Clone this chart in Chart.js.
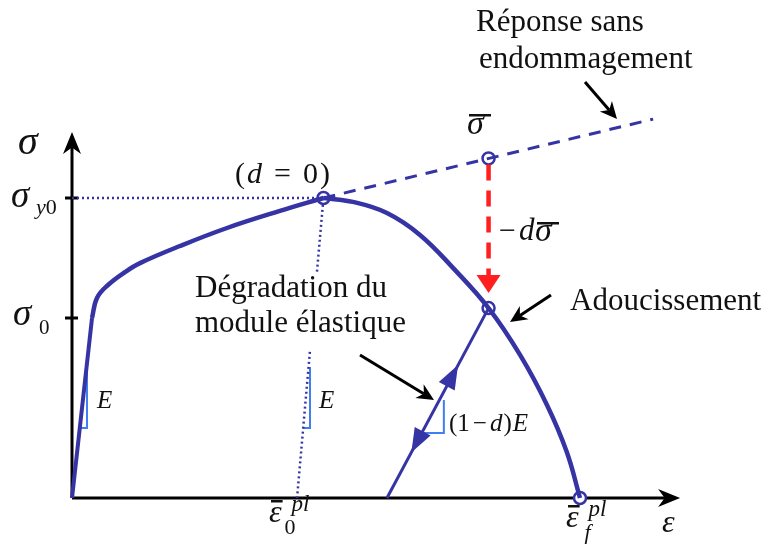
<!DOCTYPE html>
<html>
<head>
<meta charset="utf-8">
<script src="https://cdn.jsdelivr.net/npm/chart.js"></script>
<style>
    body { margin: 0; background: #fff; }
    #wrap { width: 768px; height: 545px; }
</style>
</head>
<body>
<div id="wrap"><canvas id="chart" width="768" height="545"></canvas></div>
<script>
// strain (eps) normalised so that eps_f^pl = 1, stress (sig) so that sigma_y0 = 1
const elasticEps = [0, 0.0394];
const elasticSig = [0, 0.6];

const hardEps = [0.0394, 0.0492, 0.0709, 0.1043, 0.1339, 0.2126, 0.3051, 0.4094, 0.495];
const hardSig = [0.6, 0.667, 0.71, 0.753, 0.783, 0.84, 0.9, 0.957, 1.0];

const softEps = [0.495, 0.553, 0.620, 0.685, 0.750, 0.820, 0.882, 0.935, 0.974, 1.0];
const softSig = [1.0, 0.987, 0.950, 0.877, 0.767, 0.633, 0.477, 0.310, 0.153, 0];

const undamagedEps = [0.495, 1.144];
const undamagedSig = [1.0, 1.263];

const unloadEps = [0.620, 0.820];
const unloadSig = [0, 0.633];

const redEps = [0.820, 0.820];
const redSig = [1.112, 0.74];
const redTipSig = 0.683;

const yieldDotEps = [0, 0.495];
const yieldDotSig = [1, 1];

const plDotUpperEps = [0.4938, 0.482];
const plDotUpperSig = [0.977, 0.75];
const plDotLowerEps = [0.4683, 0.443];
const plDotLowerSig = [0.487, 0];

const markerEps = [0.495, 0.820, 0.820, 1.0];
const markerSig = [1.0, 1.132, 0.633, 0];

const triE1Eps = [0.0153, 0.0295, 0.0295];
const triE2Eps = [0.455, 0.4685, 0.4685];
const triESig = [0.233, 0.233, 0.437];
const triDEps = [0.6896, 0.732, 0.732];
const triDSig = [0.217, 0.217, 0.327];

const yTickSig = [0.6, 1.0];
const xAxisEnd = 1.197;
const yAxisEnd = 1.22;

// fractions along the unloading line where the direction arrows sit (+1 up, -1 down)
const unloadArrowFrac = [0.70, 0.24];
const unloadArrowDir = [1, -1];

const BLUE = '#3634a4';
const LIGHT = '#3f7ff2';
const RED = '#ff1f1f';

function pts(xs, ys) {
    return xs.map((x, i) => ({ x: x, y: ys[i] }));
}

function line(xs, ys, color, width, extra) {
    return Object.assign({
        data: pts(xs, ys),
        showLine: true,
        borderColor: color,
        borderWidth: width,
        pointRadius: 0,
        fill: false
    }, extra || {});
}

function stealth(ctx, x1, y1, x2, y2, len, half, color) {
    const a = Math.atan2(y2 - y1, x2 - x1);
    const c = Math.cos(a), s = Math.sin(a);
    ctx.save();
    ctx.fillStyle = color;
    ctx.beginPath();
    ctx.moveTo(x2, y2);
    ctx.lineTo(x2 - len * c - half * s, y2 - len * s + half * c);
    ctx.lineTo(x2 - len * 0.7 * c, y2 - len * 0.7 * s);
    ctx.lineTo(x2 - len * c + half * s, y2 - len * s - half * c);
    ctx.closePath();
    ctx.fill();
    ctx.restore();
}

function triHead(ctx, tx, ty, bx, by, half, color) {
    const a = Math.atan2(ty - by, tx - bx);
    const c = Math.cos(a), s = Math.sin(a);
    ctx.save();
    ctx.fillStyle = color;
    ctx.beginPath();
    ctx.moveTo(tx, ty);
    ctx.lineTo(bx - half * s, by + half * c);
    ctx.lineTo(bx + half * s, by - half * c);
    ctx.closePath();
    ctx.fill();
    ctx.restore();
}

function seq(ctx, x, y, parts) {
    parts.forEach(p => {
        ctx.font = p[1];
        ctx.fillText(p[0], x, y);
        x += ctx.measureText(p[0]).width + (p[2] || 0);
    });
}

const SERIF = '"Liberation Serif", "Times New Roman", serif';
const IT = (s) => 'italic ' + s + 'px ' + SERIF;
const RG = (s) => s + 'px ' + SERIF;

const diagram = {
    id: 'diagram',
    beforeDatasetsDraw(chart) {
        const ctx = chart.ctx;
        const xs = chart.scales.x, ys = chart.scales.y;
        const ox = xs.getPixelForValue(0), oy = ys.getPixelForValue(0);
        const xe = xs.getPixelForValue(xAxisEnd), ye = ys.getPixelForValue(yAxisEnd);
        ctx.save();
        ctx.strokeStyle = '#000';
        ctx.lineWidth = 3;
        ctx.beginPath();
        ctx.moveTo(ox, oy);
        ctx.lineTo(xe - 10, oy);
        ctx.moveTo(ox, oy);
        ctx.lineTo(ox, ye + 10);
        yTickSig.forEach(v => {
            const ty = ys.getPixelForValue(v);
            ctx.moveTo(ox - 7, ty);
            ctx.lineTo(ox + 6, ty);
        });
        ctx.stroke();
        stealth(ctx, ox, oy, xe, oy, 22, 9, '#000');
        stealth(ctx, ox, oy, ox, ye, 22, 9, '#000');
        ctx.restore();
    },
    afterDatasetsDraw(chart) {
        const ctx = chart.ctx;
        const xs = chart.scales.x, ys = chart.scales.y;
        const X = v => xs.getPixelForValue(v), Y = v => ys.getPixelForValue(v);

        // red arrow head
        triHead(ctx, X(redEps[1]), Y(redTipSig), X(redEps[1]), Y(redSig[1]) - 1, 12, RED);

        // direction arrows on the unloading line
        const bx = X(unloadEps[0]), by = Y(unloadSig[0]);
        const tx = X(unloadEps[1]), ty = Y(unloadSig[1]);
        const L = Math.hypot(tx - bx, ty - by);
        const ux = (tx - bx) / L, uy = (ty - by) / L;
        unloadArrowFrac.forEach((f, i) => {
            const px = bx + (tx - bx) * f, py = by + (ty - by) * f;
            const d = unloadArrowDir[i];
            triHead(ctx, px, py, px - d * 24 * ux, py - d * 24 * uy, 9, BLUE);
        });

        // annotation arrows
        ctx.save();
        ctx.strokeStyle = '#000';
        ctx.lineWidth = 3;
        [[585, 82, 617, 119], [551, 295, 510, 322], [360, 355, 434, 400]].forEach(a => {
            const ang = Math.atan2(a[3] - a[1], a[2] - a[0]);
            ctx.beginPath();
            ctx.moveTo(a[0], a[1]);
            ctx.lineTo(a[2] - 12 * Math.cos(ang), a[3] - 12 * Math.sin(ang));
            ctx.stroke();
            stealth(ctx, a[0], a[1], a[2], a[3], 17, 8, '#000');
        });
        ctx.restore();

        // text
        ctx.save();
        ctx.fillStyle = '#111';
        ctx.textBaseline = 'alphabetic';
        ctx.font = RG(31);
        ctx.fillText('Réponse sans', 476, 31);
        ctx.fillText('endommagement', 479, 68);
        ctx.fillText('Adoucissement', 570, 310);
        ctx.fillText('Dégradation du', 195, 297);
        ctx.fillText('module élastique', 195, 332);

        // axis symbols
        ctx.font = IT(40);
        ctx.fillText('σ', 18, 154);
        ctx.font = IT(37);
        ctx.fillText('σ', 11, 207);
        ctx.fillText('σ', 13, 325);
        seq(ctx, 36, 214, [['y', IT(22), 0], ['0', RG(22)]]);
        ctx.font = RG(21);
        ctx.fillText('0', 39, 334);

        ctx.font = IT(32);
        ctx.fillText('ε', 662, 532);

        // eps bar labels
        const epsBar = (x, y, sub, sx) => {
            ctx.font = IT(32);
            ctx.fillText('ε', x, y);
            const w = ctx.measureText('ε').width;
            ctx.fillRect(x + 2, y - 22, w - 1, 2.5);
            ctx.font = IT(23);
            ctx.fillText('pl', x + w + 10, y - 11);
            ctx.font = sub === 'f' ? IT(22) : RG(22);
            ctx.fillText(sub, x + w + sx, y + 12);
        };
        epsBar(269, 522, '0', 3);
        epsBar(566, 527, 'f', 6);

        // (d = 0)
        seq(ctx, 235, 183, [['(', RG(30), 2], ['d', IT(30), 12], ['=', RG(30), 12], ['0', RG(30), 2], [')', RG(30)]]);

        // sigma bar
        ctx.font = IT(34);
        ctx.fillText('σ', 467, 134);
        ctx.fillRect(469, 114, 22, 2.5);

        // -d sigma bar
        seq(ctx, 499, 240, [['−', RG(30), 3], ['d', IT(31), 1]]);
        ctx.font = IT(34);
        ctx.fillText('σ', 535, 241);
        ctx.fillRect(537, 222, 22, 2.5);

        // E labels
        ctx.font = IT(25);
        ctx.fillText('E', 97, 408);
        ctx.fillText('E', 319, 408);
        seq(ctx, 449, 431, [['(', RG(25), 0], ['1', RG(25), 3], ['−', RG(25), 3], ['d', IT(25), 1], [')', RG(25), 1], ['E', IT(25)]]);
        ctx.restore();
    }
};

new Chart(document.getElementById('chart'), {
    type: 'scatter',
    data: {
        datasets: [
            line(yieldDotEps, yieldDotSig, BLUE, 2.5, { borderDash: [2, 3] }),
            line(plDotUpperEps, plDotUpperSig, BLUE, 2.5, { borderDash: [2, 3] }),
            line(plDotLowerEps, plDotLowerSig, BLUE, 2.5, { borderDash: [2, 3] }),
            line(undamagedEps, undamagedSig, BLUE, 3, { borderDash: [12, 9] }),
            line(redEps, redSig, RED, 4.5, { borderDash: [16, 10] }),
            line(elasticEps, elasticSig, BLUE, 4),
            line(hardEps, hardSig, BLUE, 4.5, { tension: 0.4 }),
            line(softEps, softSig, BLUE, 4.5, { tension: 0.4 }),
            line(unloadEps, unloadSig, BLUE, 3),
            line(triE1Eps, triESig, LIGHT, 2),
            line(triE2Eps, triESig, LIGHT, 2),
            line(triDEps, triDSig, LIGHT, 2),
            {
                data: pts(markerEps, markerSig),
                pointRadius: 6,
                pointBackgroundColor: '#fff',
                pointBorderColor: BLUE,
                pointBorderWidth: 2.5,
                showLine: false
            }
        ]
    },
    options: {
        responsive: false,
        animation: false,
        devicePixelRatio: 1,
        layout: { padding: 0, autoPadding: false },
        plugins: { legend: { display: false }, tooltip: { enabled: false } },
        events: [],
        scales: {
            x: { type: 'linear', min: -72 / 508, max: 696 / 508, display: false },
            y: { type: 'linear', min: -47 / 300, max: 498 / 300, display: false }
        }
    },
    plugins: [diagram]
});
</script>
</body>
</html>
